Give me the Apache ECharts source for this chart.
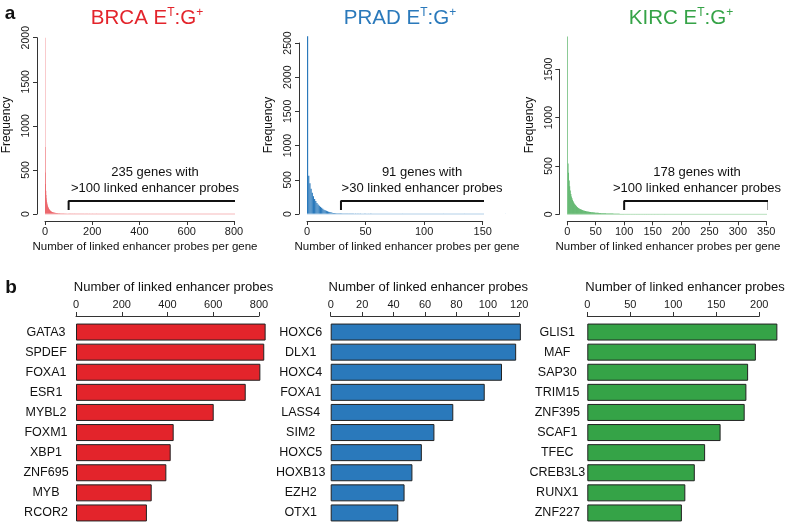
<!DOCTYPE html>
<html>
<head>
    <meta charset="utf-8">
</head>
<body style="margin: 0">
<div id="main" style="width: 785px; height: 523px"></div>

<script src="https://cdn.jsdelivr.net/npm/echarts@6/dist/echarts.min.js"></script>
<script type="text/javascript">
    // --- histograms: number of genes with 1, 2, 3 ... linked enhancer probes ---
    var brcaFreq = [2000, 760, 470, 340, 265, 215, 180, 155, 135, 120,
        107, 96, 88, 80, 73, 67, 62, 57, 53, 49,
        45, 42, 39, 36, 34, 32, 30, 28, 26, 24,
        23, 22, 21, 20, 19, 18, 18, 17, 16, 15,
        15, 14, 13, 13, 12, 12, 11, 11, 10, 10,
        9, 9, 9, 8, 8, 7, 7, 7, 6, 6,
        6, 5, 5, 5, 4, 4, 4, 4, 3, 3,
        3, 3, 3, 2, 2, 2, 3, 2, 2, 2,
        2, 1, 2, 2, 1, 2, 1, 1, 2, 1,
        1, 1, 2, 1, 1, 1, 1, 0, 1, 1];
    // [probes, genes] beyond the first bins
    var brcaTail = [[101, 3], [103, 4], [105, 3], [107, 4], [110, 3], [112, 3], [115, 4], [118, 3],
        [121, 3], [124, 3], [127, 2], [131, 3], [134, 2], [138, 3], [142, 2], [146, 3], [150, 2],
        [155, 2], [160, 3], [165, 2], [170, 2], [176, 2], [182, 2], [188, 2], [195, 1], [202, 2],
        [210, 1], [218, 2], [226, 1], [235, 1], [245, 1], [256, 1], [268, 1], [280, 1], [295, 1],
        [310, 1], [330, 1], [350, 1], [375, 1], [395, 1], [414, 1], [427, 1], [602, 1], [742, 1],
        [806, 1], [823, 1], [829, 1], [847, 1]];

    var pradFreq = [2600, 560, 450, 370, 310, 260, 220, 190, 160, 140,
        120, 105, 90, 78, 62, 54, 46, 40, 34, 29,
        24, 20, 16, 13, 11, 9, 8, 7, 6, 6,
        5, 4, 4, 3, 3, 3, 2, 2, 2, 2];
    var pradTail = [[42, 2], [44, 2], [46, 2], [48, 1], [50, 2], [53, 1], [55, 2], [58, 1], [61, 1],
        [64, 1], [67, 1], [70, 1], [74, 1], [78, 1], [82, 1], [87, 1], [92, 1], [97, 1], [103, 1],
        [108, 1], [117, 1], [121, 1], [135, 1], [150, 1], [170, 1]];

    var kircFreq = [1840, 525, 430, 350, 290, 245, 210, 185, 165, 148,
        134, 122, 112, 103, 95, 88, 82, 76, 71, 66,
        62, 58, 55, 52, 49, 46, 44, 42, 40, 38,
        36, 34, 33, 31, 30, 29, 28, 27, 26, 25,
        24, 23, 22, 21, 21, 20, 19, 19, 18, 17,
        17, 16, 16, 15, 15, 14, 14, 13, 13, 12,
        12, 12, 11, 11, 11, 10, 10, 10, 9, 9,
        9, 9, 8, 8, 8, 8, 7, 7, 7, 7,
        7, 6, 6, 6, 6, 6, 5, 5, 5, 5,
        5, 5, 4, 4, 4, 4, 4, 4, 4, 3];
    var kircTail = [[102, 4], [104, 4], [106, 3], [108, 4], [110, 3], [113, 3], [116, 3], [119, 3],
        [122, 3], [125, 3], [128, 2], [132, 3], [136, 2], [140, 2], [144, 2], [149, 2], [154, 2],
        [160, 2], [166, 1], [172, 2], [180, 1], [186, 1], [195, 1], [203, 1], [215, 1], [230, 1],
        [250, 1], [270, 1], [300, 1], [330, 1], [354, 1]];

    // --- top 10 genes by number of linked enhancer probes ---
    var brcaGenes = ['GATA3', 'SPDEF', 'FOXA1', 'ESR1', 'MYBL2', 'FOXM1', 'XBP1', 'ZNF695', 'MYB', 'RCOR2'];
    var brcaProbes = [829, 823, 806, 742, 602, 427, 414, 395, 331, 310];
    var pradGenes = ['HOXC6', 'DLX1', 'HOXC4', 'FOXA1', 'LASS4', 'SIM2', 'HOXC5', 'HOXB13', 'EZH2', 'OTX1'];
    var pradProbes = [121, 118, 109, 98, 78, 66, 58, 52, 47, 43];
    var kircGenes = ['GLIS1', 'MAF', 'SAP30', 'TRIM15', 'ZNF395', 'SCAF1', 'TFEC', 'CREB3L3', 'RUNX1', 'ZNF227'];
    var kircProbes = [221, 196, 187, 185, 183, 155, 137, 125, 114, 110];

    // tick ranges
    var histXMax = [800, 150, 350], histXStep = [200, 50, 50];
    var histYMax = [2000, 2500, 1500], histYStep = [500, 500, 500];
    var barXMax = [800, 120, 200], barXStep = [200, 20, 50];

    // brackets [from, to] and annotation
    var brackets = [[100, 847], [29, 170], [100, 354]];
    var bracketY = [[57, 147], [73, 190], [55, 138]];
    var notes = [['235 genes with', '>100 linked enhancer probes'],
        ['91 genes with', '>30 linked enhancer probes'],
        ['178 genes with', '>100 linked enhancer probes']];
    var cancers = ['BRCA', 'PRAD', 'KIRC'];

    var colors = ['#e3242b', '#2a79bb', '#35a347'];
    var pale = ['#f6b9bb', '#b3d0e8', '#b8e0bd'];
    var FONT = '"Liberation Sans", Arial, Helvetica, sans-serif';

    var dom = document.getElementById('main');
    var myChart = echarts.init(dom, null, {renderer: 'canvas'});

    var histGrids = [
        {left: 45, top: 37.7, width: 189, height: 176.3},
        {left: 307, top: 43, width: 175.7, height: 171},
        {left: 567.3, top: 69.3, width: 199, height: 145}
    ];
    var barGrids = [
        {left: 76, top: 322, width: 183, height: 201},
        {left: 330.7, top: 322, width: 188.6, height: 201},
        {left: 587.3, top: 322, width: 172, height: 201}
    ];
    var titleX = [147, 400, 681];
    var freqX = [7, 269, 530];
    var xNameX = [145, 407, 668];
    var barNameX = [173.5, 428.3, 685];
    var noteX = [155, 422, 697];

    var freqs = [brcaFreq, pradFreq, kircFreq];
    var tails = [brcaTail, pradTail, kircTail];
    var genes = [brcaGenes, pradGenes, kircGenes];
    var probes = [brcaProbes, pradProbes, kircProbes];

    var axisColor = '#333';
    var plain = function (v) { return String(v); };
    var grid = [], xAxis = [], yAxis = [], series = [], graphic = [];

    for (var i = 0; i < 3; i++) {
        grid.push(histGrids[i]);
        xAxis.push({
            type: 'value', gridIndex: i, min: 0, max: histXMax[i], interval: histXStep[i],
            position: 'bottom', offset: 7,
            splitLine: {show: false},
            axisLine: {show: true, onZero: false, lineStyle: {color: axisColor, width: 1}},
            axisTick: {show: true, length: 4, lineStyle: {color: axisColor}},
            axisLabel: {color: '#1a1a1a', fontSize: 11, margin: 5, fontFamily: FONT, formatter: plain}
        });
        yAxis.push({
            type: 'value', gridIndex: i, min: 0, max: histYMax[i], interval: histYStep[i],
            position: 'left', offset: 8,
            splitLine: {show: false},
            axisLine: {show: true, onZero: false, lineStyle: {color: axisColor, width: 1}},
            axisTick: {show: true, length: 4, lineStyle: {color: axisColor}},
            axisLabel: {color: '#1a1a1a', fontSize: 10.5, margin: 5, rotate: 90, fontFamily: FONT, formatter: plain}
        });

        var hist = freqs[i].map(function (v, k) { return [k + 0.5, v]; })
            .concat(tails[i].map(function (p) { return [p[0] - 0.5, p[1]]; }));
        var xMaxData = brackets[i][1];
        series.push({
            type: 'line', xAxisIndex: i, yAxisIndex: i, clip: false, silent: true,
            symbol: 'none', data: [[0, 0], [xMaxData, 0]],
            lineStyle: {color: pale[i], width: 1}
        });
        series.push({
            type: 'bar', xAxisIndex: i, yAxisIndex: i, clip: false,
            barWidth: '100%', barMinWidth: 0.01,
            itemStyle: {color: colors[i]},
            data: hist
        });
        series.push({
            type: 'line', xAxisIndex: i, yAxisIndex: i, clip: false, silent: true,
            symbol: 'none',
            data: [[brackets[i][0], bracketY[i][0]], [brackets[i][0], bracketY[i][1]],
                [brackets[i][1], bracketY[i][1]], [brackets[i][1], bracketY[i][0]]],
            lineStyle: {color: '#111', width: 2, cap: 'square'}
        });
    }

    for (var j = 0; j < 3; j++) {
        var g = j + 3;
        grid.push(barGrids[j]);
        xAxis.push({
            type: 'value', gridIndex: g, min: 0, max: barXMax[j], interval: barXStep[j],
            position: 'top', offset: 6,
            splitLine: {show: false},
            axisLine: {show: true, onZero: false, lineStyle: {color: axisColor, width: 1}},
            axisTick: {show: true, length: 4, lineStyle: {color: axisColor}},
            axisLabel: {color: '#1a1a1a', fontSize: 11, margin: 6, fontFamily: FONT, formatter: plain}
        });
        yAxis.push({
            type: 'category', gridIndex: g, inverse: true, data: genes[j],
            axisLine: {show: false}, axisTick: {show: false},
            axisLabel: {color: '#111', fontSize: 12.5, margin: 30, align: 'center', fontFamily: FONT}
        });
        series.push({
            type: 'bar', xAxisIndex: g, yAxisIndex: g, clip: false,
            barWidth: 17,
            itemStyle: {color: colors[j], borderColor: '#222', borderWidth: 1},
            data: probes[j]
        });
    }

    function txt(x, y, text, size, opts) {
        opts = opts || {};
        return {
            type: 'text', x: x, y: y, rotation: opts.rotation || 0, silent: true,
            style: {
                text: text, fill: opts.color || '#111',
                font: (opts.weight || 'normal') + ' ' + size + 'px ' + FONT,
                align: 'center', verticalAlign: 'middle',
                rich: opts.rich
            }
        };
    }

    graphic.push(txt(10, 14, 'a', 19, {weight: 'bold'}));
    graphic.push(txt(11, 288, 'b', 19, {weight: 'bold'}));
    for (var m = 0; m < 3; m++) {
        var rich = {
            n: {fontSize: 20.5, fontFamily: FONT, fill: colors[m], color: colors[m], lineHeight: 23},
            s: {fontSize: 12, fontFamily: FONT, fill: colors[m], color: colors[m], lineHeight: 23, verticalAlign: 'top', padding: [0, 0, 9, 0]}
        };
        graphic.push(txt(titleX[m], 18, '{n|' + cancers[m] + ' E}{s|T}{n|:G}{s|+}', 20.5, {color: colors[m], rich: rich}));
        graphic.push(txt(freqX[m], 125, 'Frequency', 12, {rotation: Math.PI / 2}));
        graphic.push(txt(xNameX[m], 247, 'Number of linked enhancer probes per gene', 11.5));
        graphic.push(txt(barNameX[m], 287, 'Number of linked enhancer probes', 13));
        graphic.push(txt(noteX[m], 172, notes[m][0], 13));
        graphic.push(txt(noteX[m], 188, notes[m][1], 13));
    }

    var option = {
        animation: false,
        backgroundColor: '#fff',
        grid: grid,
        xAxis: xAxis,
        yAxis: yAxis,
        series: series,
        graphic: graphic
    };

    if (option && typeof option === 'object') {
        myChart.setOption(option);
    }
</script>
</body>
</html>
